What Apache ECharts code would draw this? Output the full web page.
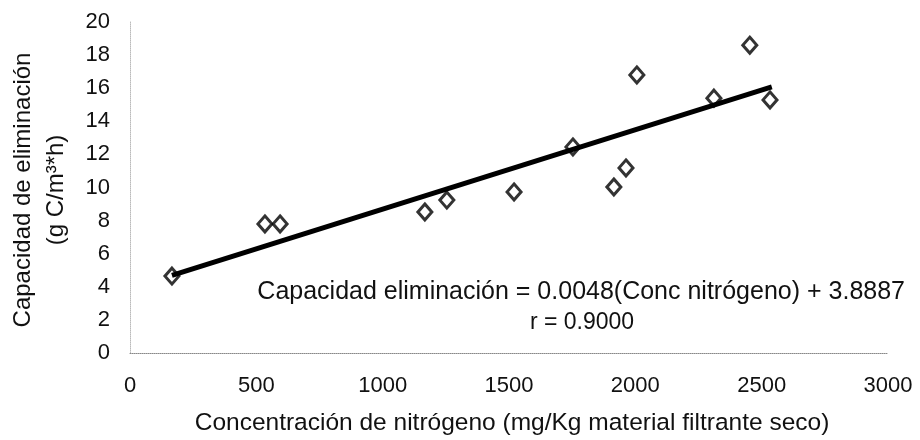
<!DOCTYPE html>
<html>
<head>
<meta charset="utf-8">
<script src="https://cdn.jsdelivr.net/npm/echarts@6/dist/echarts.min.js"></script>
<style>
html,body{margin:0;padding:0;background:#fff;}
#chart{width:920px;height:440px;}
</style>
</head>
<body>
<div id="chart"></div>
<script>
// Data
var concNitrogeno = [166, 534, 594, 1167, 1254, 1520, 1753, 1915, 1963, 2006, 2311, 2453, 2533];
var capacidadElim = [4.65, 7.8, 7.8, 8.52, 9.24, 9.73, 12.45, 10.03, 11.18, 16.8, 15.4, 18.6, 15.29];
// Regression line endpoints (as drawn)
var trendX = [166, 2540];
var trendY = [4.69, 16.08];
var xTicks = [0, 500, 1000, 1500, 2000, 2500, 3000];
var yTicks = [0, 2, 4, 6, 8, 10, 12, 14, 16, 18, 20];

var FONT = '"Liberation Sans", Arial, sans-serif';
var scatterData = concNitrogeno.map(function (x, i) { return [x, capacidadElim[i]]; });
var trendData = trendX.map(function (x, i) { return [x, trendY[i]]; });

var chart = echarts.init(document.getElementById('chart'));
chart.setOption({
  backgroundColor: '#fff',
  animation: false,
  grid: { left: 130, right: 32, top: 22, bottom: 87 },
  xAxis: {
    type: 'value',
    min: xTicks[0], max: xTicks[xTicks.length - 1], interval: 500,
    axisLine: { show: true, lineStyle: { color: '#888', width: 1, type: 'dotted' } },
    axisTick: { show: false },
    splitLine: { show: false },
    axisLabel: { color: '#111', fontSize: 22, fontFamily: FONT, margin: 22,
      formatter: function (v) { return String(v); } }
  },
  yAxis: {
    type: 'value',
    min: yTicks[0], max: yTicks[yTicks.length - 1], interval: 2,
    axisLine: { show: true, lineStyle: { color: '#bbb', width: 1, type: 'dotted' } },
    axisTick: { show: false },
    splitLine: { show: false },
    axisLabel: { color: '#111', fontSize: 22, fontFamily: FONT, margin: 20,
      formatter: function (v) { return String(v); } }
  },
  series: [
    {
      type: 'scatter',
      data: scatterData,
      symbol: 'diamond',
      symbolSize: [14, 16],
      itemStyle: { color: '#fff', borderColor: '#000', borderWidth: 3 },
      z: 2
    },
    {
      type: 'line',
      data: trendData,
      showSymbol: false,
      symbol: 'none',
      lineStyle: { color: '#000', width: 5 },
      z: 3
    }
  ],
  graphic: [
    {
      type: 'text',
      x: 40, y: 190,
      rotation: Math.PI / 2,
      style: {
        text: 'Capacidad de eliminación\n(g C/m³*h)',
        fill: '#111',
        font: '24px ' + FONT,
        textAlign: 'center',
        textVerticalAlign: 'middle',
        lineHeight: 33
      }
    },
    {
      type: 'text',
      x: 512, y: 423,
      style: {
        text: 'Concentración de nitrógeno (mg/Kg material filtrante seco)',
        fill: '#111',
        font: '24.5px ' + FONT,
        textAlign: 'center',
        textVerticalAlign: 'middle'
      }
    },
    {
      type: 'text',
      x: 905, y: 292,
      style: {
        text: 'Capacidad eliminación = 0.0048(Conc nitrógeno) + 3.8887',
        fill: '#111',
        font: '25px ' + FONT,
        textAlign: 'right',
        textVerticalAlign: 'middle'
      }
    },
    {
      type: 'text',
      x: 582, y: 323,
      style: {
        text: 'r = 0.9000',
        fill: '#111',
        font: '23px ' + FONT,
        textAlign: 'center',
        textVerticalAlign: 'middle'
      }
    }
  ]
});
</script>
</body>
</html>
